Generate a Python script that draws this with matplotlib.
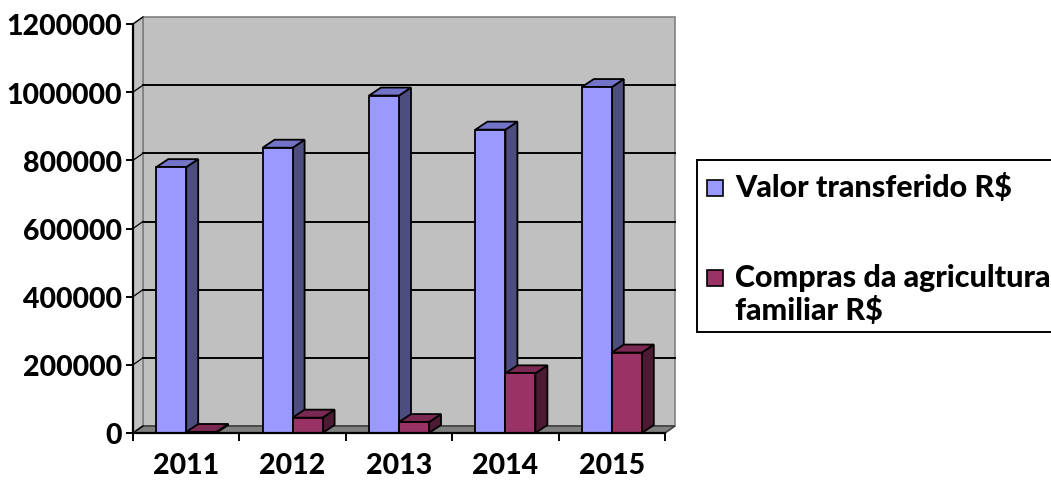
import matplotlib
matplotlib.use("Agg")
import matplotlib.pyplot as plt
from matplotlib.patches import Polygon, Rectangle

years = ["2011", "2012", "2013", "2014", "2015"]
valor_transferido = [780000, 837000, 990000, 890000, 1015000]
compras_agricultura = [3000, 45000, 32000, 175000, 236000]
series_names = ["Valor transferido R$", "Compras da agricultura\nfamiliar R$"]
y_ticks = [0, 200000, 400000, 600000, 800000, 1000000, 1200000]

W, H = 1051, 481
FONT = "Lato"
WEIGHT = 900

# (front, top, side) shades per series
blue = ("#9999FF", "#7373C8", "#4D4D80")
red = ("#993366", "#7A2952", "#4D1A33")

fig = plt.figure(figsize=(W / 100, H / 100), dpi=100)
ax_l, ax_r, ax_b, ax_t = 133, 665, 434, 25   # pixel box of the front plane
ax = fig.add_axes([ax_l / W, 1 - ax_b / H, (ax_r - ax_l) / W, (ax_b - ax_t) / H])
ymax = 1200000
ax.set_xlim(0, len(years))
ax.set_ylim(0, ymax)

# pixel -> data unit conversion for the fake 3D depth
ux = len(years) / (ax_r - ax_l)
uy = ymax / (ax_b - ax_t)
wdx, wdy = 10 * ux, 7 * uy      # wall depth
bdx, bdy = 12 * ux, 8 * uy      # bar depth
bw = 30 * ux                    # bar width

# walls and floor
wall = "#C0C0C0"
edge = "#808080"
n = len(years)
ax.add_patch(Polygon([(wdx, wdy), (n + wdx, wdy), (n + wdx, ymax + wdy), (wdx, ymax + wdy)],
                     closed=True, fc=wall, ec=edge, lw=1.2, clip_on=False, zorder=1))
ax.add_patch(Polygon([(0, 0), (wdx, wdy), (wdx, ymax + wdy), (0, ymax)],
                     closed=True, fc=wall, ec=edge, lw=1.2, clip_on=False, zorder=1))
ax.add_patch(Polygon([(0, 0), (n, 0), (n + wdx, wdy), (wdx, wdy)],
                     closed=True, fc="#808080", ec="#404040", lw=1.2, clip_on=False, zorder=2))

for v in y_ticks[1:-1]:
    ax.plot([wdx, n + wdx], [v + wdy, v + wdy], color="black", lw=1.4, zorder=2, clip_on=False)
for v in y_ticks:
    ax.plot([0, wdx], [v, v + wdy], color="black", lw=0.9, zorder=2, clip_on=False)


def bar3d(x0, h, shades):
    front, top, side = shades
    kw = dict(ec="black", lw=1.3, clip_on=False, zorder=3, joinstyle="miter")
    ax.add_patch(Polygon([(x0 + bw, 0), (x0 + bw + bdx, bdy), (x0 + bw + bdx, h + bdy), (x0 + bw, h)],
                         closed=True, fc=side, **kw))
    ax.add_patch(Polygon([(x0, h), (x0 + bw, h), (x0 + bw + bdx, h + bdy), (x0 + bdx, h + bdy)],
                         closed=True, fc=top, **kw))
    ax.add_patch(Rectangle((x0, 0), bw, h, fc=front, **kw))


for i in range(n):
    c = i + 0.5
    bar3d(c - bw, valor_transferido[i], blue)
    bar3d(c, compras_agricultura[i], red)

# axes styling
for s in ["top", "right"]:
    ax.spines[s].set_visible(False)
for s in ["left", "bottom"]:
    ax.spines[s].set_linewidth(1.6)
    ax.spines[s].set_zorder(5)
ax.patch.set_visible(False)

ax.set_yticks(y_ticks)
ax.set_yticklabels([str(v) for v in y_ticks], fontsize=20.5, fontweight=WEIGHT, family=FONT)
ax.tick_params(axis="y", length=5, width=1.4, pad=3)
ax.set_xticks(range(n + 1))
ax.set_xticklabels([])
ax.tick_params(axis="x", which="major", length=6, width=1.4)
ax.set_xticks([i + 0.5 for i in range(n)], minor=True)
ax.set_xticklabels(years, minor=True, fontsize=20.5, fontweight=WEIGHT, family=FONT)
ax.tick_params(axis="x", which="minor", length=0, pad=14)

# legend drawn by hand, box runs off the right edge
def fx(px):
    return px / W


def fy(py):
    return 1 - py / H


fig.patches.append(Rectangle((fx(697), fy(333)), fx(420), (333 - 161) / H, transform=fig.transFigure,
                             fc="white", ec="black", lw=1.4, clip_on=False))
fig.patches.append(Rectangle((fx(707), fy(197)), fx(16), 16 / H, transform=fig.transFigure,
                             fc=blue[0], ec="black", lw=1.2))
fig.patches.append(Rectangle((fx(707), fy(287)), fx(16), 16 / H, transform=fig.transFigure,
                             fc=red[0], ec="black", lw=1.2))
fig.text(fx(735), fy(197), series_names[0], fontsize=22, fontweight=WEIGHT, family=FONT,
         va="baseline", ha="left")
fig.text(fx(735), fy(287), series_names[1].split("\n")[0], fontsize=22, fontweight=WEIGHT,
         family=FONT, va="baseline", ha="left")
fig.text(fx(735), fy(320), series_names[1].split("\n")[1], fontsize=22, fontweight=WEIGHT,
         family=FONT, va="baseline", ha="left")

fig.savefig("out.png", dpi=100)
